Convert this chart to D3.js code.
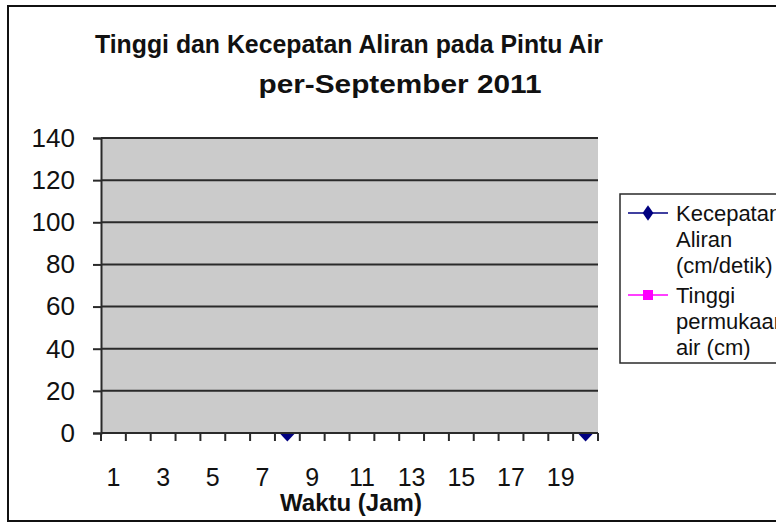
<!DOCTYPE html>
<meta charset="utf-8">
<script src="https://d3js.org/d3.v7.min.js"></script>
<style>
  body { margin: 0; background: #fff; }
  text { font-family: Arial, "Liberation Sans", sans-serif; }
</style>
<div id="chart"></div>
<script>
  // data
  const hours = d3.range(1, 21);                    // Waktu (Jam)
  const hourLabels = [1, 3, 5, 7, 9, 11, 13, 15, 17, 19];
  const kecepatan = [null, null, null, null, null, null, null, 0, null, null,
                     null, null, null, null, null, null, null, null, null, 0];
  const tinggi = hours.map(() => null);
  const yTicks = [0, 20, 40, 60, 80, 100, 120, 140];
  const seriesNames = [["Kecepatan", "Aliran", "(cm/detik)"], ["Tinggi", "permukaan", "air (cm)"]];
  const seriesColors = ["#000080", "#ff00ff"];

  const W = 776, H = 523;
  const plot = {left: 101, right: 598, top: 138, bottom: 433};

  const svg = d3.select("#chart").append("svg")
      .attr("width", W).attr("height", H);

  // chart area border (runs off the right side)
  svg.append("rect")
      .attr("x", 8).attr("y", 6).attr("width", 820).attr("height", 515)
      .attr("fill", "#fff").attr("stroke", "#111").attr("stroke-width", 2);

  const x = d3.scaleBand().domain(hours).range([plot.left, plot.right]);
  const y = d3.scaleLinear().domain([0, 140]).range([plot.bottom, plot.top]);

  // plot area
  svg.append("rect")
      .attr("x", plot.left).attr("y", plot.top)
      .attr("width", plot.right - plot.left).attr("height", plot.bottom - plot.top)
      .attr("fill", "#cbcbcb");

  // gridlines
  svg.append("g").selectAll("line").data(yTicks.filter(d => d > 0)).join("line")
      .attr("x1", plot.left).attr("x2", plot.right)
      .attr("y1", d => y(d)).attr("y2", d => y(d))
      .attr("stroke", "#2a2a2a").attr("stroke-width", 2);

  // y axis
  const yAxis = svg.append("g")
      .attr("transform", `translate(${plot.left},0)`)
      .call(d3.axisLeft(y).tickValues(yTicks).tickSize(8).tickPadding(18));
  yAxis.select(".domain").attr("stroke", "#2a2a2a").attr("stroke-width", 2);
  yAxis.selectAll(".tick line").attr("stroke", "#2a2a2a").attr("stroke-width", 2);
  yAxis.selectAll("text").attr("font-size", 26).attr("fill", "#111");

  // x axis: ticks between categories
  const xg = svg.append("g");
  xg.append("line")
      .attr("x1", plot.left).attr("x2", plot.right)
      .attr("y1", plot.bottom).attr("y2", plot.bottom)
      .attr("stroke", "#2a2a2a").attr("stroke-width", 2);
  xg.selectAll("line.tk").data(hours.concat([21])).join("line")
      .attr("class", "tk")
      .attr("x1", d => d <= 20 ? x(d) : plot.right)
      .attr("x2", d => d <= 20 ? x(d) : plot.right)
      .attr("y1", plot.bottom).attr("y2", plot.bottom + 8)
      .attr("stroke", "#2a2a2a").attr("stroke-width", 2);

  const xAxis = svg.append("g")
      .attr("transform", `translate(0,${plot.bottom})`)
      .call(d3.axisBottom(x).tickValues(hourLabels).tickSize(0).tickPadding(35));
  xAxis.select(".domain").remove();
  xAxis.selectAll("text").attr("font-size", 25).attr("fill", "#111");

  // markers (only lower half shows below the axis)
  svg.append("clipPath").attr("id", "below")
    .append("rect").attr("x", 0).attr("y", plot.bottom + 1).attr("width", W).attr("height", 50);

  const diamond = d3.symbol().type(d3.symbolDiamond).size(130);
  svg.append("g").attr("clip-path", "url(#below)")
    .selectAll("path").data(hours.map((h, i) => ({h, v: kecepatan[i]})).filter(d => d.v !== null))
    .join("path")
      .attr("d", diamond)
      .attr("transform", d => `translate(${x(d.h) + x.bandwidth() / 2},${y(d.v)}) scale(1.3,0.8)`)
      .attr("fill", seriesColors[0]);

  svg.append("g").selectAll("rect")
    .data(hours.map((h, i) => ({h, v: tinggi[i]})).filter(d => d.v !== null))
    .join("rect")
      .attr("x", d => x(d.h) + x.bandwidth() / 2 - 4).attr("y", d => y(d.v) - 4)
      .attr("width", 8).attr("height", 8).attr("fill", seriesColors[1]);

  // title
  const title = svg.append("text").attr("text-anchor", "middle")
      .attr("font-size", 26).attr("font-weight", "bold").attr("fill", "#111");
  title.append("tspan").attr("x", 349).attr("y", 53)
      .attr("textLength", 508).attr("lengthAdjust", "spacingAndGlyphs")
      .text("Tinggi dan Kecepatan Aliran pada Pintu Air");
  title.append("tspan").attr("x", 400).attr("y", 93)
      .attr("textLength", 283).attr("lengthAdjust", "spacingAndGlyphs")
      .text("per-September 2011");

  // axis title
  svg.append("text").attr("x", 351).attr("y", 511)
      .attr("text-anchor", "middle").attr("font-size", 24).attr("font-weight", "bold")
      .attr("fill", "#111").text("Waktu (Jam)");

  // legend
  const lg = svg.append("g");
  lg.append("rect").attr("x", 620).attr("y", 194).attr("width", 200).attr("height", 169)
      .attr("fill", "#fff").attr("stroke", "#2a2a2a").attr("stroke-width", 1.5);
  seriesNames.forEach((lines, i) => {
    const cy = 213 + i * 82;
    lg.append("line").attr("x1", 628).attr("x2", 668).attr("y1", cy).attr("y2", cy)
        .attr("stroke", seriesColors[i]).attr("stroke-width", 1.5);
    if (i === 0) {
      lg.append("path").attr("d", d3.symbol().type(d3.symbolDiamond).size(70))
          .attr("transform", `translate(648,${cy}) scale(1.2,1)`).attr("fill", seriesColors[i]);
    } else {
      lg.append("rect").attr("x", 643).attr("y", cy - 5).attr("width", 10).attr("height", 10)
          .attr("fill", seriesColors[i]);
    }
    lines.forEach((t, j) => {
      lg.append("text").attr("x", 676).attr("y", cy + 8 + j * 26)
          .attr("font-size", 22).attr("fill", "#111").text(t);
    });
  });
</script>
